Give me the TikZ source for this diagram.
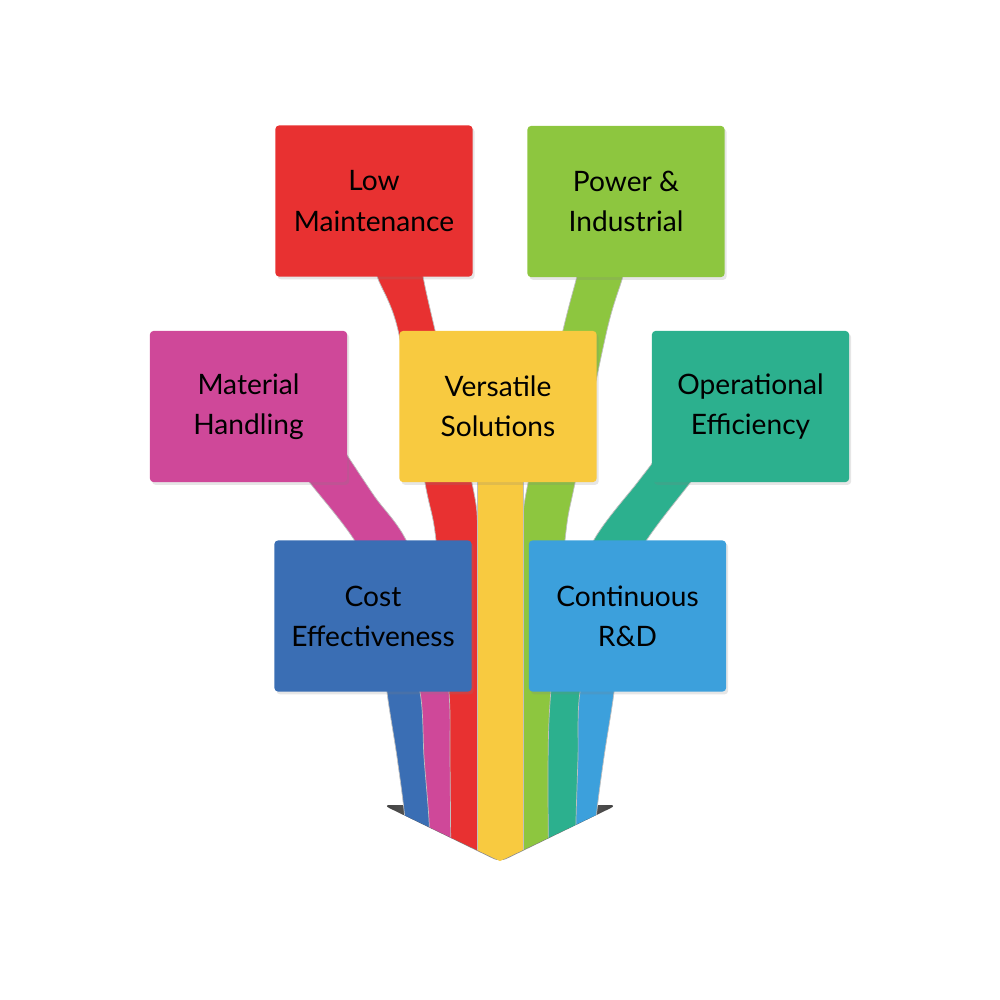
\documentclass[tikz,border=0pt]{standalone}
\usepackage{fontspec}
\setmainfont{Lato}
\usetikzlibrary{shadows}
\definecolor{cardred}{HTML}{E83131}
\definecolor{cardgreen}{HTML}{8DC63F}
\definecolor{cardmagenta}{HTML}{CF4899}
\definecolor{cardyellow}{HTML}{F8CA40}
\definecolor{cardteal}{HTML}{2CB08E}
\definecolor{cardblue}{HTML}{3A6EB4}
\definecolor{cardsky}{HTML}{3CA0DC}
\begin{document}
\begin{tikzpicture}[x=0.01cm, y=-0.01cm,
  card/.style={rounded corners=1pt, minimum width=1.97cm, minimum height=1.51cm,
    inner sep=0pt, align=center, font=\fontsize{8}{11.4}\selectfont,
    drop shadow={opacity=0.2, shadow xshift=0.6pt, shadow yshift=-0.8pt}},
  ribbon/.style={draw=black!25, line width=0.2pt}]
  \useasboundingbox (0,0) rectangle (1000,1000);
  % arrow head behind the strands
  \shade[rounded corners=2pt, left color=black!75, right color=black!75, middle color=black!40]
    (383,805) -- (617,805) -- (500,862) -- cycle;
  % strands
  \begin{scope}
    \clip (0,0) -- (1000,0) -- (1000,805) -- (617,805) -- (500,861) -- (383,805) -- (0,805) -- cycle;
    \fill[cardblue, ribbon] plot[smooth] coordinates {(385,650) (387,692) (397,757) (405,820) (407,880)}
      -- plot[smooth] coordinates {(432,880) (430,820) (426,757) (426,692) (430,650)} -- cycle;
    \fill[cardsky, ribbon] plot[smooth] coordinates {(566,650) (568,692) (572,757) (570,820) (569,880)}
      -- plot[smooth] coordinates {(594,880) (596,820) (604,757) (614,692) (616,650)} -- cycle;
    \fill[cardmagenta, ribbon] plot[smooth] coordinates {(285,450) (310,483) (353,538) (398,615) (420,692) (424,757) (429,820) (431,880)}
      -- plot[smooth] coordinates {(454,880) (453,780) (451,692) (440,620) (405,538) (375,497) (347,455) (330,430)} -- cycle;
    \fill[cardteal, ribbon] plot[smooth] coordinates {(675,430) (653,462) (637,483) (595,538) (560,615) (546,692) (546,757) (547,880)}
      -- plot[smooth] coordinates {(575,880) (576,820) (578,757) (580,692) (600,615) (648,538) (690,483) (715,450)} -- cycle;
    \fill[cardred, ribbon] plot[smooth] coordinates {(375,250) (377,276) (398,330) (425,483) (436,540) (449,692) (450,757) (451,880)}
      -- plot[smooth] coordinates {(480,880) (480,700) (478,540) (472,483) (435,330) (423,276) (421,250)} -- cycle;
    \fill[cardgreen, ribbon] plot[smooth] coordinates {(582,250) (577,276) (563,330) (528,483) (522,540) (520,700) (520,880)}
      -- plot[smooth] coordinates {(549,880) (549,720) (565,540) (575,483) (607,330) (623,276) (627,250)} -- cycle;
    \fill[cardyellow, ribbon] (477,470) rectangle (523,880);
  \end{scope}
  % cards
  \node[card, fill=cardred]     (lowmaint)    at (374,201)   {Low\\Maintenance};
  \node[card, fill=cardgreen]   (power)       at (626,201.5) {Power \&\\Industrial};
  \node[card, fill=cardmagenta] (material)    at (248.5,406.5) {Material\\Handling};
  \node[card, fill=cardyellow]  (versatile)   at (498,406.5) {Versatile\\Solutions};
  \node[card, fill=cardteal]    (operational) at (750.5,406.5) {Operational\\Efficiency};
  \node[card, fill=cardblue]    (cost)        at (373,616)   {Cost\\Effectiveness};
  \node[card, fill=cardsky]     (continuous)  at (627.5,616) {Continuous\\R\&D};
\end{tikzpicture}
\end{document}
